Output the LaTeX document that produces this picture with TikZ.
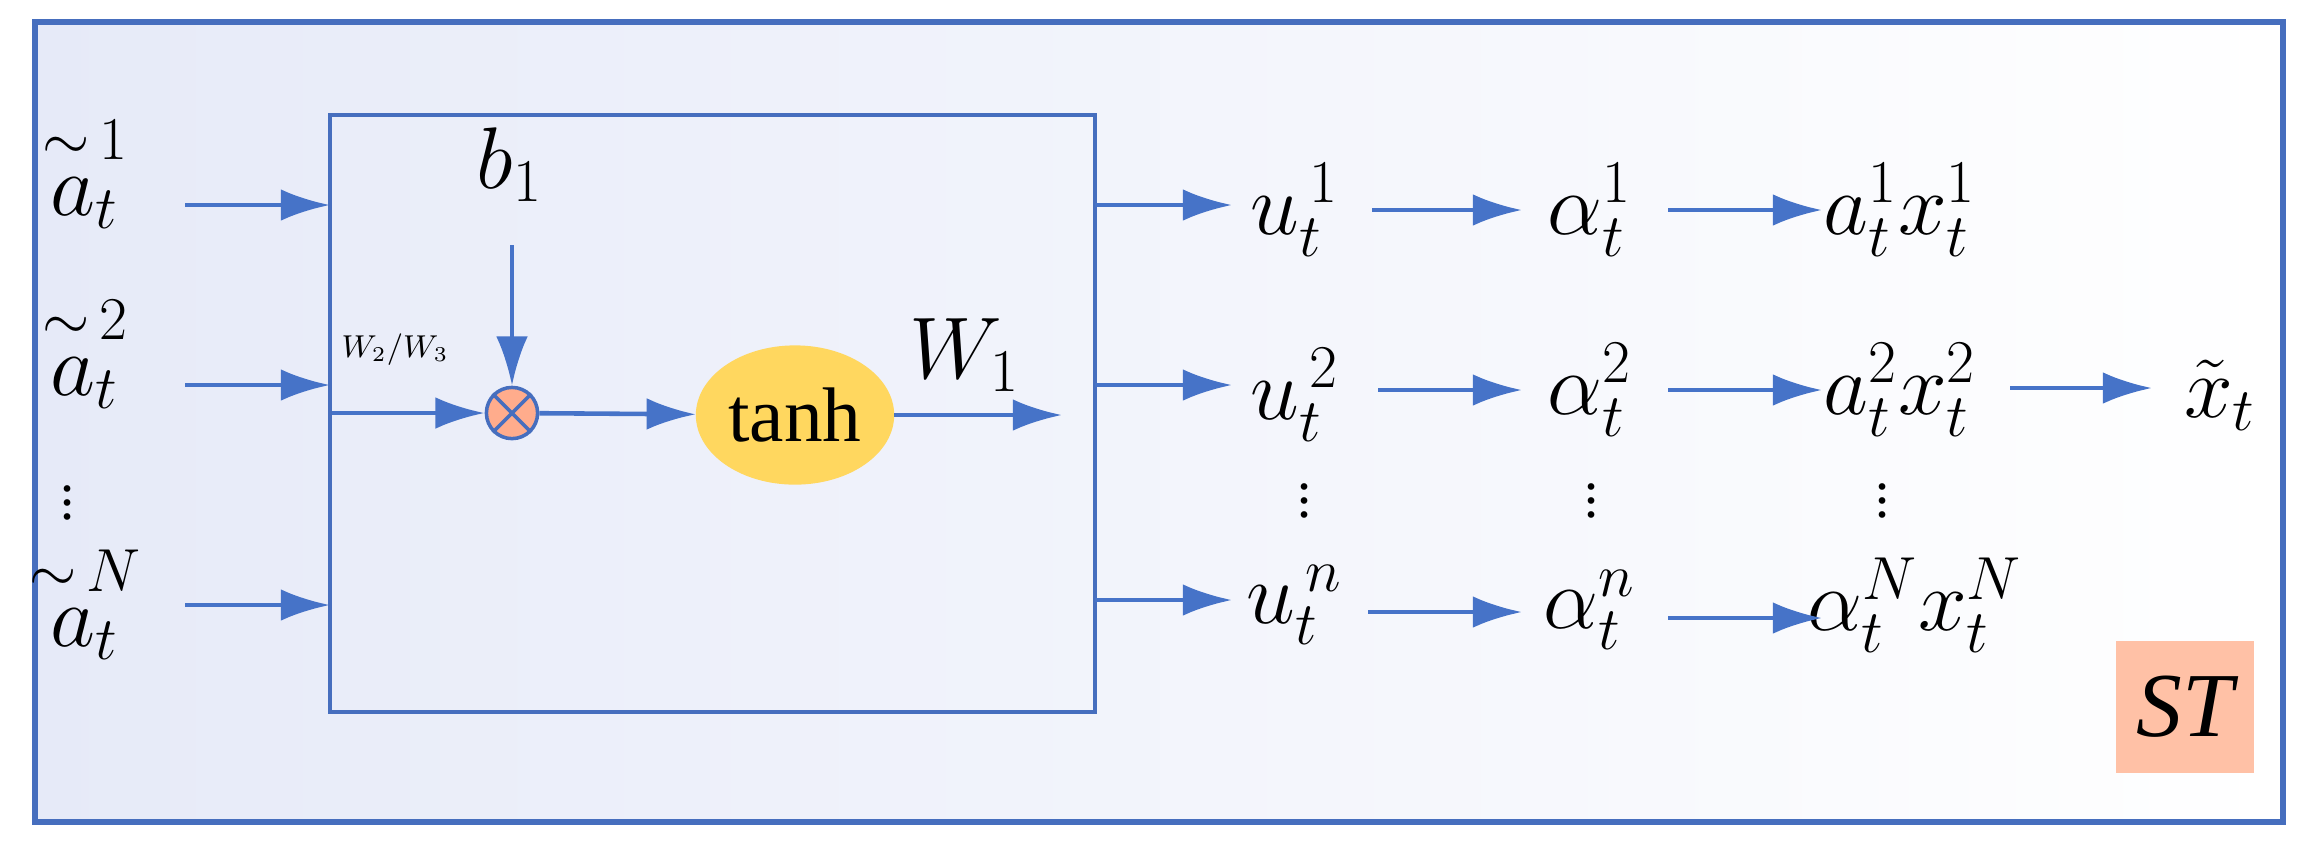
\documentclass[tikz,border=0pt]{standalone}
\usepackage{amsmath}
\usepackage{fontspec}
\setmainfont{Liberation Serif}
\usetikzlibrary{arrows.meta,shapes.geometric}
\begin{document}
\begin{tikzpicture}[x=0.01cm,y=-0.01cm,
  arr/.style={-{Latex[length=14pt,width=9pt]},line width=1.3pt,draw=arrc},
  lbl/.style={font=\fontsize{24}{26}\selectfont,inner sep=0pt},
  dots/.style={font=\fontsize{16}{18}\selectfont,inner sep=0pt}]
\useasboundingbox (0,0) rectangle (2313,847);
\definecolor{frame}{RGB}{70,110,190}
\definecolor{arrc}{RGB}{70,115,200}
\definecolor{bgb}{RGB}{230,234,248}
\shade[left color=bgb,right color=white] (35,22) rectangle (2283,822);
\draw[frame,line width=1.5pt] (35,22) rectangle (2283,822);
\draw[frame,line width=1.3pt] (330,115) rectangle (1095,712);
% left inputs
\node[lbl] (a1) at (85,170) {$\overset{\sim\,1}{a_t}$};
\node[lbl] (a2) at (85,350) {$\overset{\sim\,2}{a_t}$};
\node[dots] (ld) at (68,492) {$\vdots$};
\node[lbl] (aN) at (85,600) {$\overset{\sim\,N}{a_t}$};
\coordinate (i1) at (330,205); \coordinate (i2) at (330,385); \coordinate (i3) at (330,605);
\coordinate (s1) at (185,205); \coordinate (s2) at (185,385); \coordinate (s3) at (185,605);
\draw[arr] (s1) -- (i1); \draw[arr] (s2) -- (i2); \draw[arr] (s3) -- (i3);
% inner
\node[lbl] (b1) at (510,165) {$b_1$};
\node[circle,draw=frame,fill=orange!55!red!45,minimum size=52*0.28pt,inner sep=0pt,line width=1pt] (mul) at (512,413) {};
\draw[frame,line width=1pt] (mul.north west) -- (mul.south east) (mul.north east) -- (mul.south west);
\coordinate (bt) at (512,245);
\draw[arr] (bt) -- (mul);
\coordinate (wl) at (332,413);
\draw[arr] (wl) -- (mul);
\node[font=\fontsize{9}{10}\selectfont] (w23) at (395,350) {$W_2/W_3$};
\definecolor{tanhc}{RGB}{255,215,95}
\node[ellipse,fill=tanhc,draw=tanhc,minimum width=200*0.28pt,minimum height=140*0.28pt,inner sep=0pt,font=\fontsize{22}{24}\selectfont] (tanh) at (795,415) {tanh};
\draw[arr] (mul) -- (tanh);
\coordinate (we) at (1062,415);
\draw[arr] (tanh.east) -- (we);
\node[lbl] (W1) at (965,355) {$W_1$};
% outputs
\node[lbl] (u1) at (1295,210) {$u_t^{\,1}$};
\node[lbl] (u2) at (1295,395) {$u_t^{\,2}$};
\node[lbl] (un) at (1295,605) {$u_t^{\,n}$};
\node[lbl] (al1) at (1590,210) {$\alpha_t^1$};
\node[lbl] (al2) at (1590,390) {$\alpha_t^2$};
\node[lbl] (aln) at (1590,610) {$\alpha_t^n$};
\node[lbl] (p1) at (1900,210) {$a_t^1x_t^1$};
\node[lbl] (p2) at (1900,390) {$a_t^2x_t^2$};
\node[lbl] (pn) at (1915,605) {$\alpha_t^Nx_t^N$};
\node[lbl] (xt) at (2220,395) {$\tilde{x}_t$};
\node[dots] (d1) at (1305,490) {$\vdots$};
\node[dots] (d2) at (1592,490) {$\vdots$};
\node[dots] (d3) at (1882,490) {$\vdots$};
\coordinate (o1) at (1095,205); \coordinate (o2) at (1095,385); \coordinate (o3) at (1095,600);
\coordinate (e1) at (1232,205); \coordinate (e2) at (1232,385); \coordinate (e3) at (1232,600);
\draw[arr] (o1) -- (e1); \draw[arr] (o2) -- (e2); \draw[arr] (o3) -- (e3);
\draw[arr] (1372,210) -- (1522,210);
\draw[arr] (1378,390) -- (1522,390);
\draw[arr] (1368,612) -- (1522,612);
\draw[arr] (1668,210) -- (1822,210);
\draw[arr] (1668,390) -- (1822,390);
\draw[arr] (1668,618) -- (1822,618);
\draw[arr] (2010,388) -- (2152,388);
% ST
\node[fill=orange!60!red!35!white,minimum width=140*0.28pt,minimum height=135*0.28pt,inner sep=0pt,font=\fontsize{26}{28}\selectfont\itshape] (st) at (2185,707) {ST};
\end{tikzpicture}
\end{document}
